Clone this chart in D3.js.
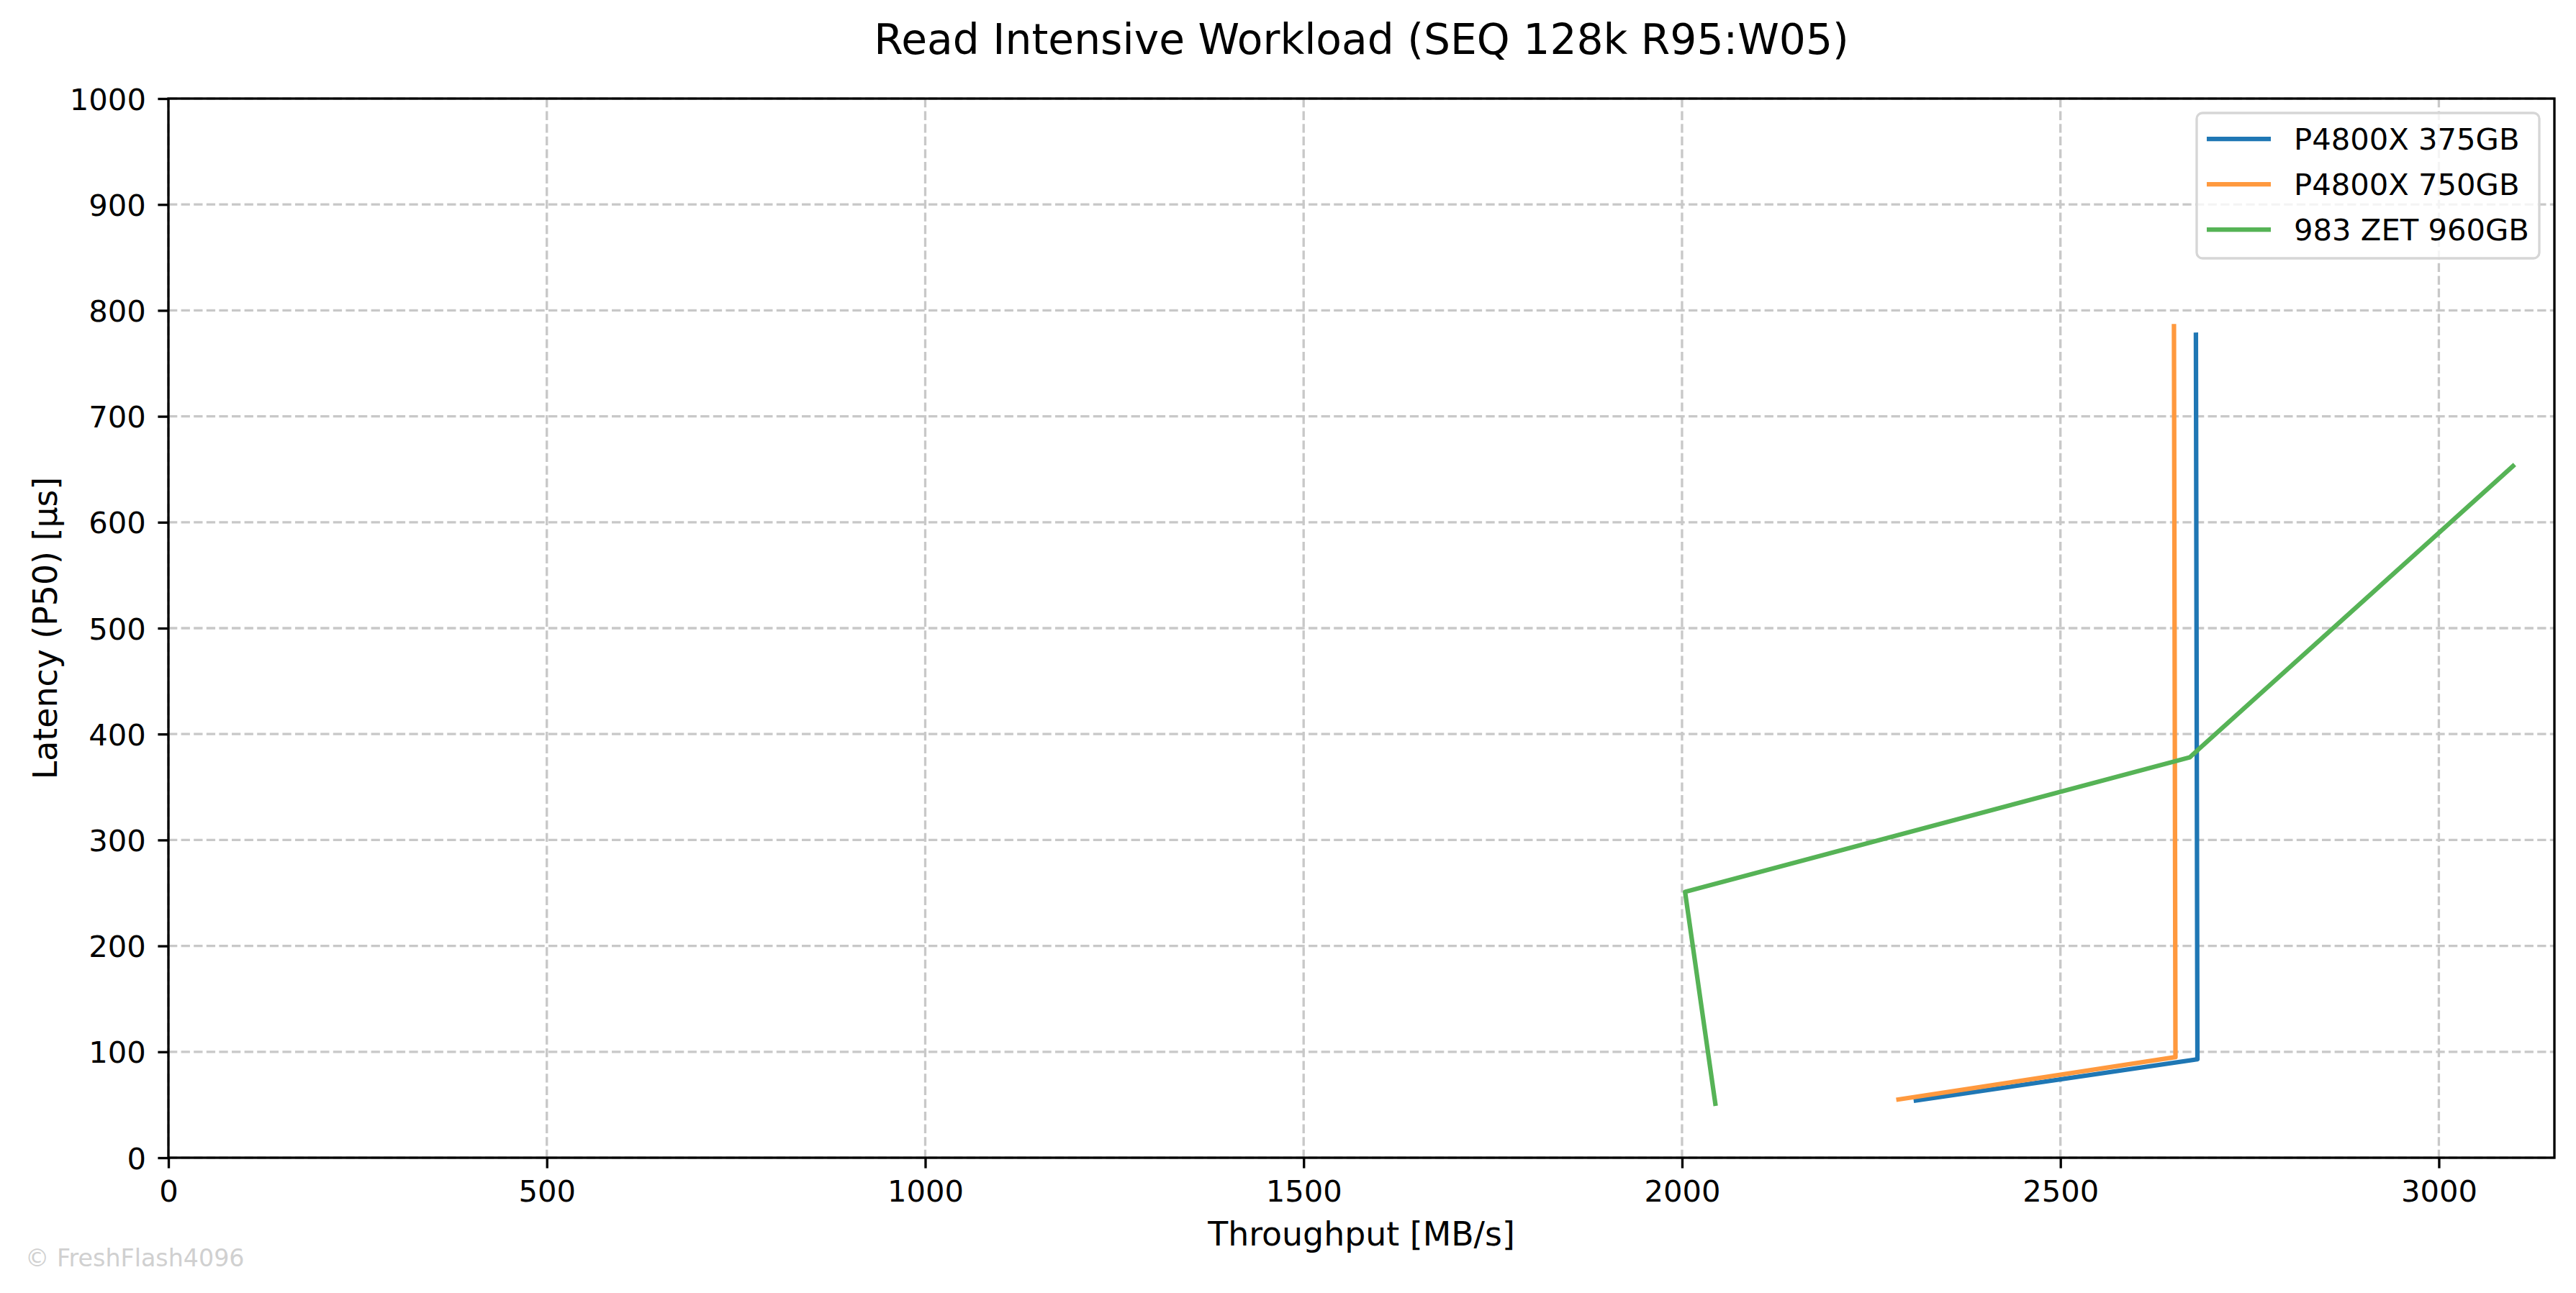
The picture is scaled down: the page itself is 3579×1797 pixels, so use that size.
<!DOCTYPE html>
<html>
<head>
<meta charset="utf-8">
<script src="https://cdn.jsdelivr.net/npm/d3@7"></script>
<style>
  html, body { margin: 0; padding: 0; background: #fff; }
  svg { display: block; font-family: "DejaVu Sans", sans-serif; }
</style>
</head>
<body>
<svg id="chart" width="3579" height="1797"></svg>
<script>
// ---- data ----
const seriesNames = ["P4800X 375GB", "P4800X 750GB", "983 ZET 960GB"];
const seriesColors = ["#1f77b4", "#ff993e", "#56b356"];
const p375Throughput = [2309, 2681, 2679];
const p375Latency = [54, 93, 777];
const p750Throughput = [2286, 2652, 2650];
const p750Latency = [55, 95, 785];
const zetThroughput = [2044, 2004, 2671, 2680, 3098];
const zetLatency = [51, 251, 378, 384, 653];
const xTicks = [0, 500, 1000, 1500, 2000, 2500, 3000];
const yTicks = [0, 100, 200, 300, 400, 500, 600, 700, 800, 900, 1000];

const titleText = "Read Intensive Workload (SEQ 128k R95:W05)";
const xLabel = "Throughput [MB/s]";
const yLabel = "Latency (P50) [µs]";
const watermark = "© FreshFlash4096";

// ---- build ----
const series = [
  { name: seriesNames[0], color: seriesColors[0], pts: p375Throughput.map((x, i) => [x, p375Latency[i]]) },
  { name: seriesNames[1], color: seriesColors[1], pts: p750Throughput.map((x, i) => [x, p750Latency[i]]) },
  { name: seriesNames[2], color: seriesColors[2], pts: zetThroughput.map((x, i) => [x, zetLatency[i]]) }
];

const allX = [].concat(p375Throughput, p750Throughput, zetThroughput);
const xMin = d3.min(allX), xMax = d3.max(allX);
const xUpper = xMax + 0.05 * (xMax - xMin);

const L = 234, R = 3549, T = 137, B = 1609;
const x = d3.scaleLinear().domain([0, xUpper]).range([L, R]);
const y = d3.scaleLinear().domain([0, 1000]).range([B, T]);

const svg = d3.select("#chart");
svg.append("rect").attr("width", 3579).attr("height", 1797).attr("fill", "#fff");

const lw = 3.33;
// grid
const grid = svg.append("g");
grid.selectAll("line.gx").data(xTicks).enter().append("line")
  .attr("x1", d => x(d)).attr("x2", d => x(d)).attr("y1", T).attr("y2", B)
  .attr("stroke", "#c8c8c8").attr("stroke-width", lw).attr("stroke-dasharray", "12.3,5.3");
grid.selectAll("line.gy").data(yTicks).enter().append("line")
  .attr("y1", d => y(d)).attr("y2", d => y(d)).attr("x1", L).attr("x2", R)
  .attr("stroke", "#c8c8c8").attr("stroke-width", lw).attr("stroke-dasharray", "12.3,5.3");

// lines
const line = d3.line().x(d => x(d[0])).y(d => y(d[1]));
svg.append("clipPath").attr("id", "clip").append("rect")
  .attr("x", L).attr("y", T).attr("width", R - L).attr("height", B - T);
svg.append("g").attr("clip-path", "url(#clip)").selectAll("path").data(series).enter().append("path")
  .attr("d", d => line(d.pts))
  .attr("fill", "none").attr("stroke", d => d.color).attr("stroke-width", 6.25)
  .attr("stroke-linejoin", "round").attr("stroke-linecap", "square");

// axes
const xAxis = d3.axisBottom(x).tickValues(xTicks).tickSize(14.6).tickPadding(16.5).tickFormat(d3.format("d"));
const yAxis = d3.axisLeft(y).tickValues(yTicks).tickSize(14.6).tickPadding(16.5).tickFormat(d3.format("d"));
const gx = svg.append("g").attr("transform", `translate(0,${B})`).call(xAxis);
const gy = svg.append("g").attr("transform", `translate(${L},0)`).call(yAxis);
[gx, gy].forEach(g => {
  g.select(".domain").remove();
  g.selectAll(".tick line").attr("stroke", "#000").attr("stroke-width", lw);
  g.selectAll(".tick text").attr("fill", "#000").attr("font-size", 41.7)
    .attr("font-family", "DejaVu Sans");
});
gy.selectAll(".tick text").attr("dy", "0.36em");

// spines
svg.append("rect").attr("x", L).attr("y", T).attr("width", R - L).attr("height", B - T)
  .attr("fill", "none").attr("stroke", "#000").attr("stroke-width", lw);

// title & labels
svg.append("text").attr("x", (L + R) / 2).attr("y", 75).attr("text-anchor", "middle")
  .attr("font-size", 58.3).attr("fill", "#000").text(titleText);
svg.append("text").attr("x", (L + R) / 2).attr("y", 1731).attr("text-anchor", "middle")
  .attr("font-size", 45.8).attr("fill", "#000").text(xLabel);
svg.append("text").attr("transform", `translate(79,${(T + B) / 2}) rotate(-90)`).attr("text-anchor", "middle")
  .attr("font-size", 45.8).attr("fill", "#000").text(yLabel);

// legend
const lg = svg.append("g");
lg.append("rect").attr("x", 3052).attr("y", 157).attr("width", 476).attr("height", 202)
  .attr("rx", 8).attr("fill", "#fff").attr("fill-opacity", 0.8)
  .attr("stroke", "#d6d6d6").attr("stroke-width", lw);
series.forEach((s, i) => {
  const yy = 193 + i * 63;
  lg.append("line").attr("x1", 3066).attr("x2", 3155).attr("y1", yy).attr("y2", yy)
    .attr("stroke", s.color).attr("stroke-width", 6.25);
  lg.append("text").attr("x", 3187).attr("y", yy + 14.5).attr("font-size", 41.7)
    .attr("fill", "#000").text(s.name);
});

// watermark
svg.append("text").attr("x", 35).attr("y", 1760).attr("font-size", 33.3)
  .attr("fill", "#d0d0d0").text(watermark);
</script>
</body>
</html>
